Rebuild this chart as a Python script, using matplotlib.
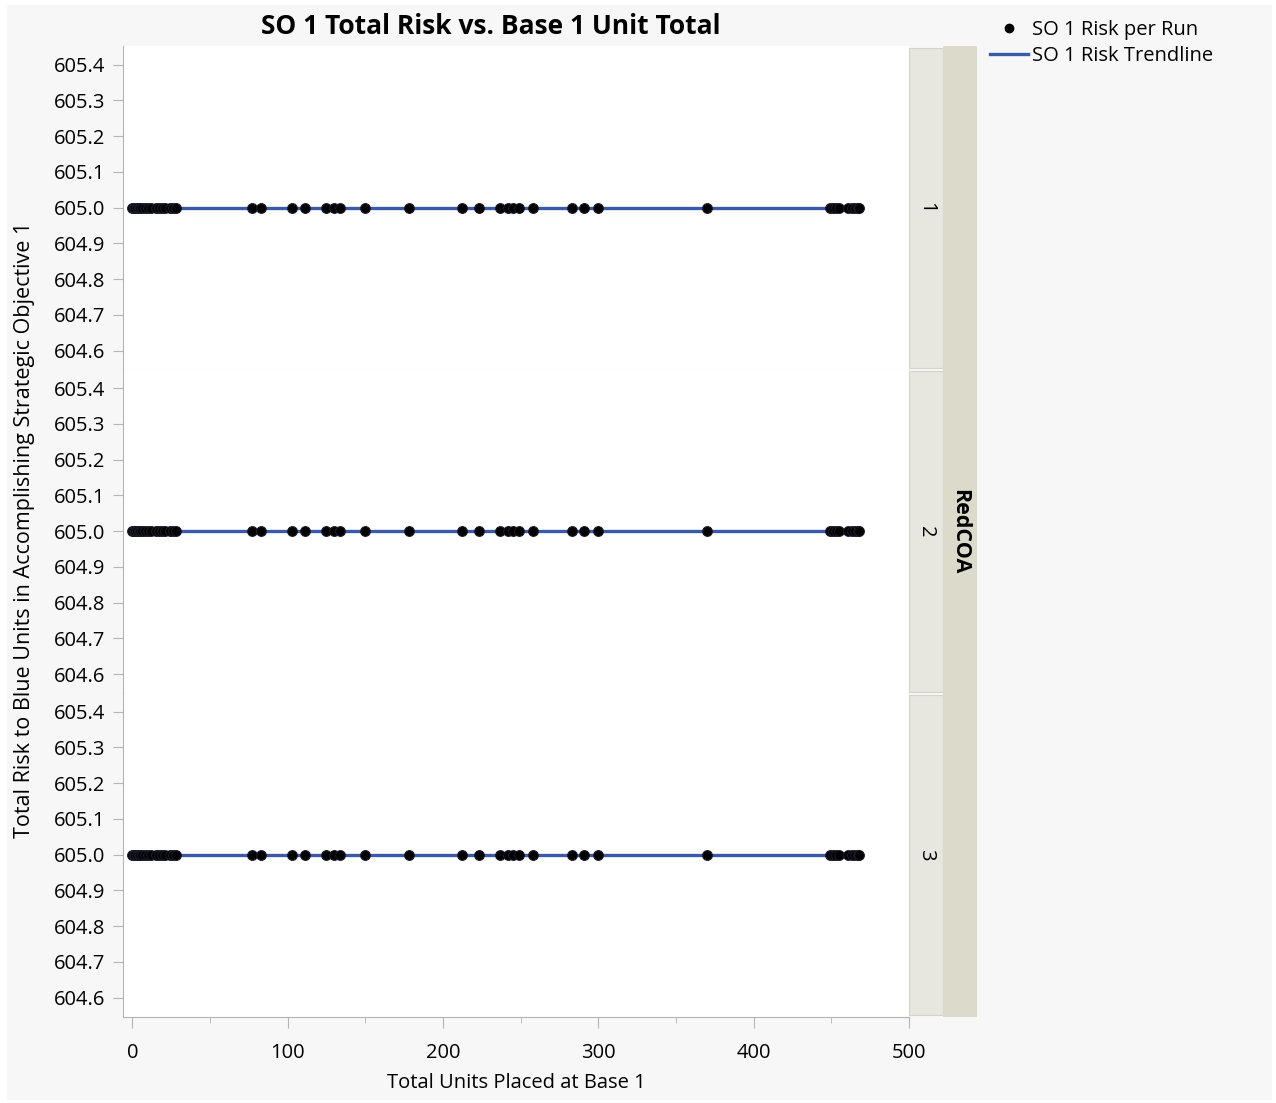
import matplotlib
matplotlib.use('Agg')
import matplotlib.pyplot as plt
import matplotlib.patches as mpatches
from matplotlib.lines import Line2D
from matplotlib.ticker import MultipleLocator
import numpy as np

plt.rcParams['font.family'] = ['Open Sans', 'DejaVu Sans']

# data: one point per run, same placements for each RedCOA
units = [0, 1, 2, 3, 4, 5, 6, 8, 10, 12, 15, 17, 19, 21, 24, 26, 28,
         77, 83, 103, 111, 125, 130, 134, 150, 178, 212, 223,
         237, 242, 245, 249, 258, 283, 291, 300, 370,
         449, 451, 453, 455, 461, 463, 465, 467, 468]
risk_coa1 = [605.0, 605.0, 605.0, 605.0, 605.0, 605.0, 605.0, 605.0, 605.0, 605.0,
             605.0, 605.0, 605.0, 605.0, 605.0, 605.0, 605.0, 605.0, 605.0, 605.0,
             605.0, 605.0, 605.0, 605.0, 605.0, 605.0, 605.0, 605.0, 605.0, 605.0,
             605.0, 605.0, 605.0, 605.0, 605.0, 605.0, 605.0, 605.0, 605.0, 605.0,
             605.0, 605.0, 605.0, 605.0, 605.0, 605.0]
risk_coa2 = [605.0, 605.0, 605.0, 605.0, 605.0, 605.0, 605.0, 605.0, 605.0, 605.0,
             605.0, 605.0, 605.0, 605.0, 605.0, 605.0, 605.0, 605.0, 605.0, 605.0,
             605.0, 605.0, 605.0, 605.0, 605.0, 605.0, 605.0, 605.0, 605.0, 605.0,
             605.0, 605.0, 605.0, 605.0, 605.0, 605.0, 605.0, 605.0, 605.0, 605.0,
             605.0, 605.0, 605.0, 605.0, 605.0, 605.0]
risk_coa3 = [605.0, 605.0, 605.0, 605.0, 605.0, 605.0, 605.0, 605.0, 605.0, 605.0,
             605.0, 605.0, 605.0, 605.0, 605.0, 605.0, 605.0, 605.0, 605.0, 605.0,
             605.0, 605.0, 605.0, 605.0, 605.0, 605.0, 605.0, 605.0, 605.0, 605.0,
             605.0, 605.0, 605.0, 605.0, 605.0, 605.0, 605.0, 605.0, 605.0, 605.0,
             605.0, 605.0, 605.0, 605.0, 605.0, 605.0]
coa_labels = ['1', '2', '3']
y_ticks = [604.6, 604.7, 604.8, 604.9, 605.0, 605.1, 605.2, 605.3, 605.4]

W, H = 1276, 1103
fig = plt.figure(figsize=(W / 100, H / 100), dpi=100, facecolor='white')

def box(x0, y0, x1, y1):
    # pixel box (top-left origin) -> figure rect
    return [x0 / W, 1 - y1 / H, (x1 - x0) / W, (y1 - y0) / H]

# light gray page background
fig.patches.append(mpatches.Rectangle((7 / W, 1 - 1100 / H), 1265 / W, 1095 / H,
                                      transform=fig.transFigure, facecolor='#f7f7f7',
                                      edgecolor='none', zorder=-10))

dot_color = 'black'
line_color = '#3a5aa8'
spine_col = '#b4b4b4'
tick_fs = 14.5

panel_tops = [46, 369.5, 693]
panel_h = 323.7
series = [risk_coa1, risk_coa2, risk_coa3]

for i, (top, risk) in enumerate(zip(panel_tops, series)):
    ax = fig.add_axes(box(123, top, 909, top + panel_h))
    ax.set_facecolor('white')
    x = np.array(units)
    y = np.array(risk)
    coef = np.polyfit(x, y, 1)
    xs = np.array([x.min(), x.max()])
    ax.plot(xs, np.polyval(coef, xs), color=line_color, lw=2.4, zorder=2)
    ax.plot(x, y, 'o', color=dot_color, ms=7, mec='#1a1a2a', mew=0.8, zorder=3)
    ax.set_xlim(-6, 500)
    ax.set_ylim(604.547, 605.452)
    ax.set_yticks(y_ticks)
    ax.set_yticklabels(['%.1f' % t for t in y_ticks])
    ax.tick_params(axis='y', direction='out', length=7, color=spine_col,
                   labelsize=tick_fs, pad=6)
    for s in ['top', 'right']:
        ax.spines[s].set_visible(False)
    ax.spines['left'].set_color(spine_col)
    ax.spines['bottom'].set_color('#dcdcdc')
    if i < 2:
        ax.tick_params(axis='x', bottom=False, labelbottom=False)
    else:
        ax.spines['bottom'].set_color(spine_col)
        ax.set_xticks([0, 100, 200, 300, 400, 500])
        ax.xaxis.set_minor_locator(MultipleLocator(50))
        ax.tick_params(axis='x', which='major', direction='out', length=8,
                       color=spine_col, labelsize=tick_fs, pad=11)
        ax.tick_params(axis='x', which='minor', direction='out', length=4,
                       color=spine_col)
        ax.set_xlabel('Total Units Placed at Base 1', fontsize=tick_fs, labelpad=7)

    # inner strip with the RedCOA level
    sax = fig.add_axes(box(909, top + 1.5, 943, top + panel_h - 1.5))
    sax.set_facecolor('#e7e7df')
    sax.set_xticks([])
    sax.set_yticks([])
    for s in sax.spines.values():
        s.set_color('#d4d4c8')
    sax.text(0.5, 0.5, coa_labels[i], rotation=-90, ha='center', va='center',
             fontsize=tick_fs, transform=sax.transAxes)

# outer strip
oax = fig.add_axes(box(943, 46, 977, 1017))
oax.set_facecolor('#dbdacb')
oax.set_xticks([])
oax.set_yticks([])
for s in oax.spines.values():
    s.set_visible(False)
oax.text(0.5, 0.5, 'RedCOA', rotation=-90, ha='center', va='center',
         fontsize=15.5, fontweight='bold', transform=oax.transAxes)

fig.text(491 / W, 1 - 27 / H, 'SO 1 Total Risk vs. Base 1 Unit Total',
         ha='center', va='center', fontsize=19, fontweight='bold')
fig.text(25 / W, 1 - 530 / H,
         'Total Risk to Blue Units in Accomplishing Strategic Objective 1',
         ha='center', va='center', rotation=90, fontsize=15.5)

handles = [Line2D([], [], marker='o', ls='none', color='black', ms=6),
           Line2D([], [], color=line_color, lw=2.4)]
fig.legend(handles, ['SO 1 Risk per Run', 'SO 1 Risk Trendline'],
           loc='upper left', bbox_to_anchor=(982 / W, 1 - 12 / H),
           frameon=False, fontsize=tick_fs, handlelength=1.9,
           handletextpad=0.2, labelspacing=0.3, borderaxespad=0)

fig.savefig('out.png', dpi=100, facecolor=fig.get_facecolor())
